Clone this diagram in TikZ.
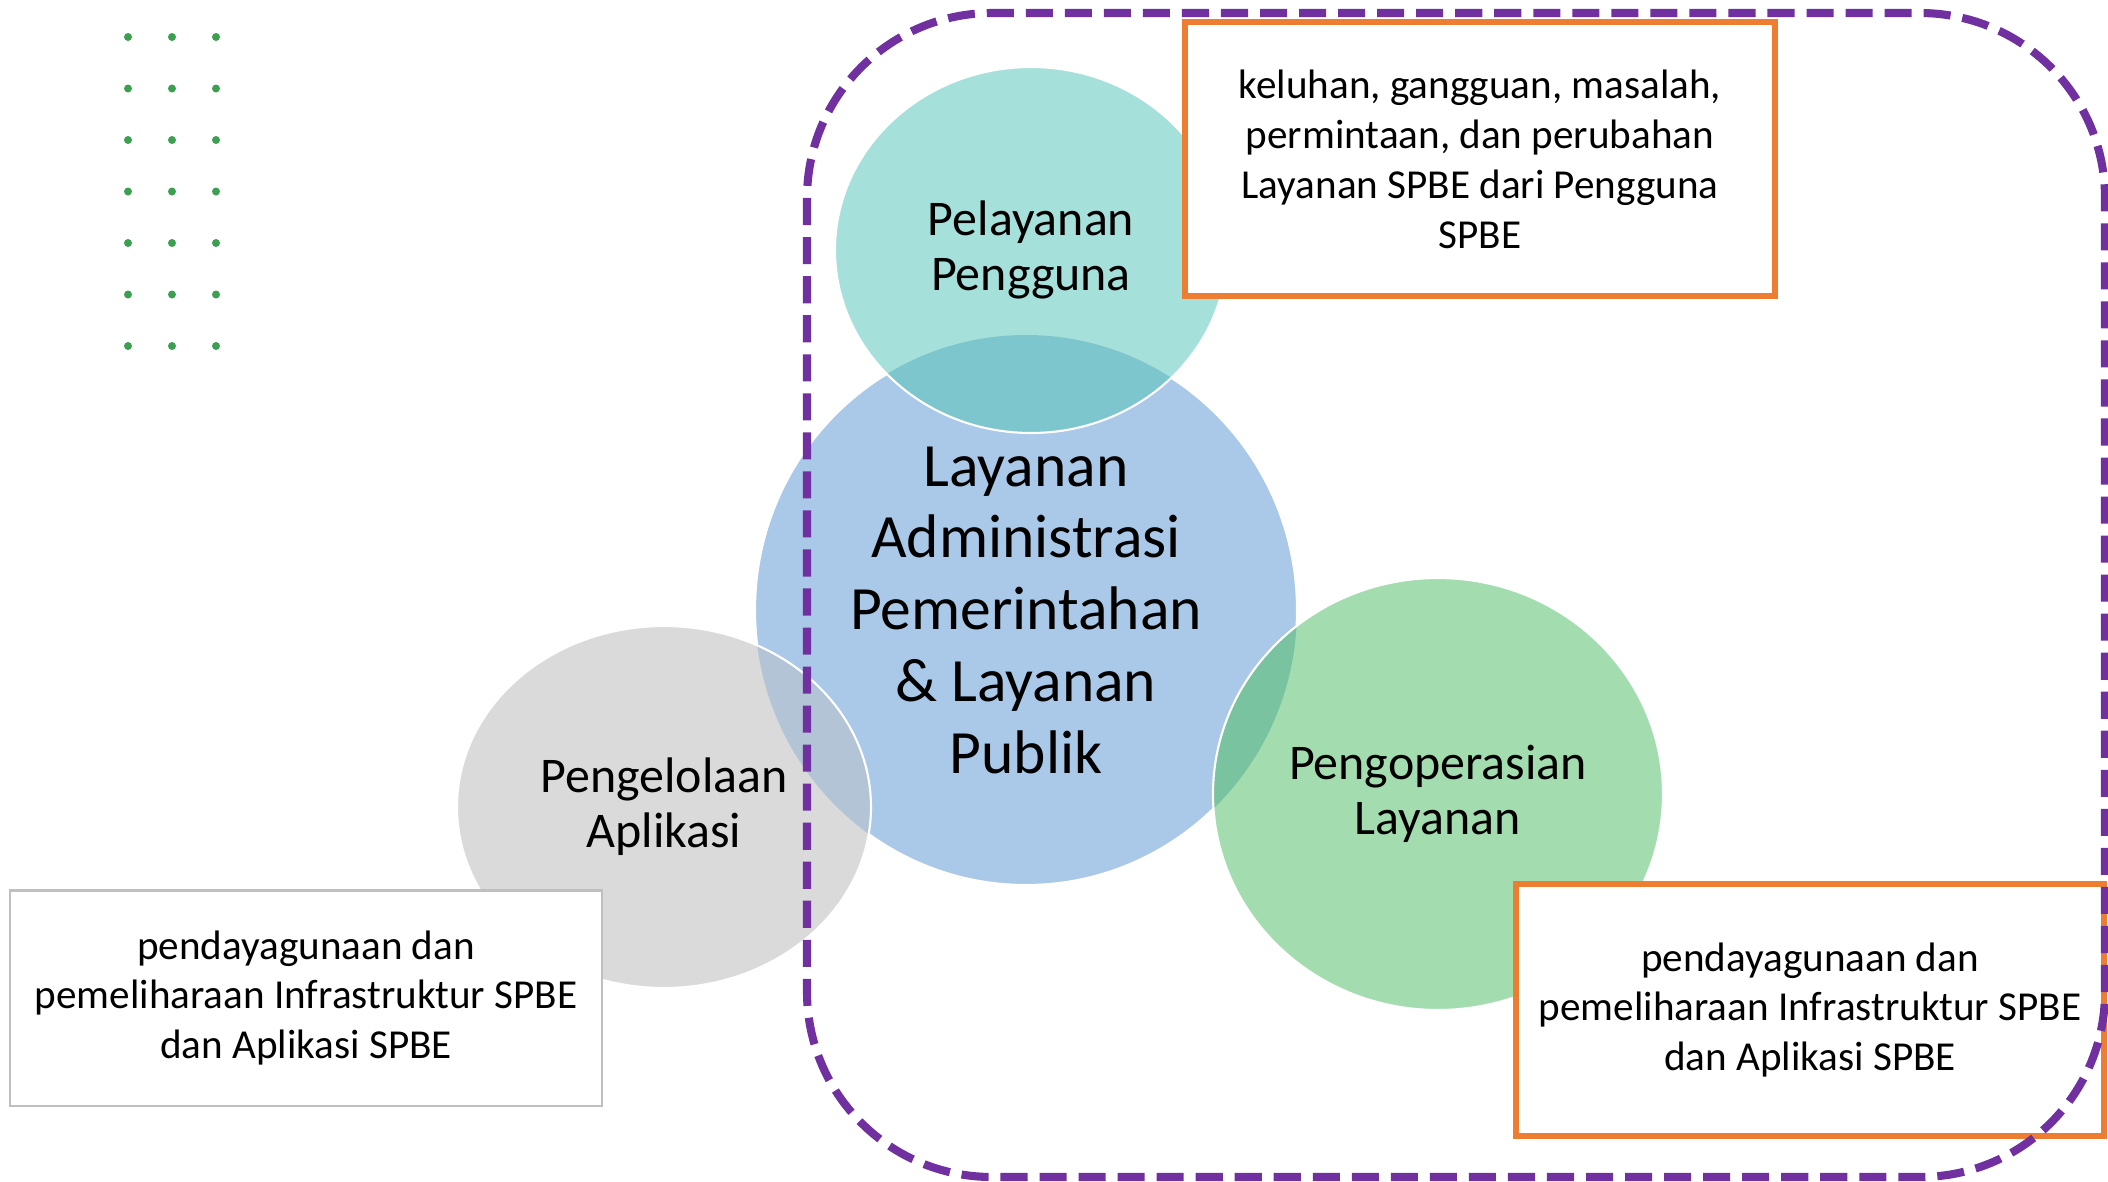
\documentclass[tikz,border=0pt]{standalone}
\usepackage{fontspec}
\setmainfont{Carlito}
\usetikzlibrary{positioning}

\definecolor{ungu}{HTML}{7030A0}
\definecolor{oranye}{HTML}{ED7D31}
\definecolor{tosca}{HTML}{A6E0DA}
\definecolor{biru}{HTML}{AAC8E8}
\definecolor{hijau}{HTML}{A3DDAF}
\definecolor{abu}{HTML}{DADADA}
\definecolor{toscabiru}{HTML}{7DC6CD}
\definecolor{hijaubiru}{HTML}{7AC3A0}
\definecolor{abubiru}{HTML}{B2C4D6}
\definecolor{titik}{HTML}{3CA050}
\definecolor{garisabu}{HTML}{BFBFBF}

\begin{document}
\begin{tikzpicture}[x=0.01cm,y=-0.01cm,
  teksbulat/.style={align=center,font=\fontsize{14.2}{15.6}\selectfont},
  kotak/.style={draw=oranye,line width=1.7pt,fill=white,align=center,inner sep=0pt,font=\fontsize{11.7}{14.2}\selectfont},
  kotakabu/.style={kotak,draw=garisabu,line width=0.6pt},
  tepi/.style={draw=white,line width=0.6pt}]
\useasboundingbox (0,0) rectangle (2108,1181);
\coordinate (cA) at (1026,610);
\coordinate (cP) at (1031,250);
\coordinate (cG) at (664,807);
\coordinate (cO) at (1438,794);
\foreach \i in {0,1,2} \foreach \j in {0,...,6} \fill[titik] (128+44*\i,37+51.5*\j) circle (4);
\fill[biru] (cA) ellipse [x radius=271,y radius=275];
\draw[tepi] (cA) ellipse [x radius=271,y radius=275];
\fill[abu] (cG) ellipse [x radius=207,y radius=181];
\fill[hijau] (cO) ellipse [x radius=225,y radius=216];
\fill[tosca] (cP) ellipse [x radius=196,y radius=183];
\begin{scope}
\clip (cA) ellipse [x radius=271,y radius=275];
\fill[abubiru] (cG) ellipse [x radius=207,y radius=181];
\fill[hijaubiru] (cO) ellipse [x radius=225,y radius=216];
\fill[toscabiru] (cP) ellipse [x radius=196,y radius=183];
\end{scope}
\draw[tepi] (cG) ellipse [x radius=207,y radius=181];
\draw[tepi] (cO) ellipse [x radius=225,y radius=216];
\draw[tepi] (cP) ellipse [x radius=196,y radius=183];
\node[align=center,font=\fontsize{17.5}{20.4}\selectfont] (admin) at (cA) {Layanan\\Administrasi\\Pemerintahan\\\& Layanan\\Publik};
\node[teksbulat] (pelayanan) at (cP) {Pelayanan\\Pengguna};
\node[teksbulat] (aplikasi) at (cG) {Pengelolaan\\Aplikasi};
\node[teksbulat] (operasi) at (cO) {Pengoperasian\\Layanan};
\node[kotak,minimum width=5.89cm,minimum height=2.74cm] (keluhan) at (1480,159) {keluhan, gangguan, masalah,\\permintaan, dan perubahan\\Layanan SPBE dari Pengguna\\SPBE};
\node[kotak,minimum width=5.87cm,minimum height=2.51cm] (infrakanan) at (1810,1010) {pendayagunaan dan\\pemeliharaan Infrastruktur SPBE\\dan Aplikasi SPBE};
\node[kotakabu,minimum width=5.91cm,minimum height=2.15cm] (infrakiri) at (306,998) {pendayagunaan dan\\pemeliharaan Infrastruktur SPBE\\dan Aplikasi SPBE};
\draw[ungu,line width=2.3pt,dash pattern=on 7.7pt off 3.4pt,rounded corners=1.85cm] (807,13) rectangle (2105,1177);
\end{tikzpicture}
\end{document}
